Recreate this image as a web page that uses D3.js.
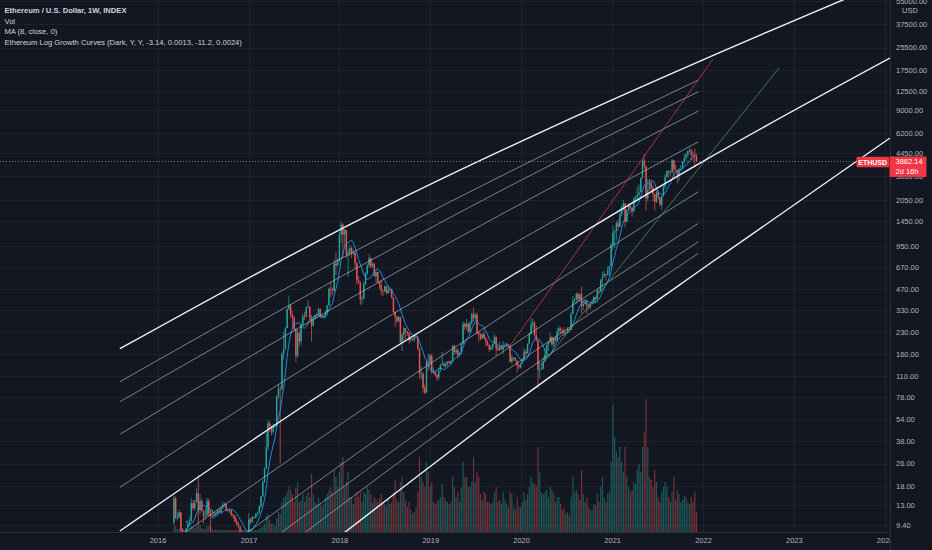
<!DOCTYPE html>
<html>
<head>
<meta charset="utf-8">
<script src="https://cdn.jsdelivr.net/npm/d3@7"></script>
<style>
    body { margin: 0; background: #131722; }
    svg { display: block; font-family: "Liberation Sans", Arial, sans-serif; }
</style>
</head>
<body>
<svg id="eth-chart"></svg>
<script>
// 周K线：首周日期与开盘价
var firstWeek = '2016-03-07';
var firstOpen = 9.8;
// 每周 [收盘, 最高, 最低, 成交量]
var weeks2016 = [
    [14.6, 15.3, 9.3, 5], [10.5, 15.1, 10.4, 6], [10.6, 11.6, 10.1, 3], [11.6, 12.1, 10.6, 3],
    [8.7, 11.6, 8.2, 3], [8.1, 8.9, 7.3, 3], [7.6, 8.2, 7.3, 2], [8.9, 9.0, 7.0, 2],
    [9.5, 10.2, 8.8, 3], [10.0, 10.8, 9.2, 3], [13.5, 14.6, 10.2, 6], [12.4, 14.2, 12.0, 5],
    [13.8, 14.3, 11.9, 4], [15.9, 17.2, 13.7, 6], [12.0, 21.5, 10.0, 12], [14.0, 15.6, 11.3, 7],
    [11.9, 14.5, 11.8, 4], [10.9, 12.0, 9.6, 3], [11.0, 12.4, 10.3, 3], [14.0, 14.7, 11.0, 6],
    [11.4, 14.5, 10.8, 6], [10.9, 12.0, 8.2, 5], [10.9, 12.3, 10.5, 3], [11.2, 11.5, 10.4, 2],
    [11.1, 11.5, 10.7, 2], [11.9, 12.2, 10.9, 2], [11.6, 12.4, 11.3, 2], [12.4, 12.8, 11.6, 2],
    [13.0, 13.8, 12.3, 2], [13.3, 13.7, 12.7, 2], [12.0, 13.3, 11.8, 2], [11.9, 12.2, 11.6, 2],
    [12.0, 12.3, 11.4, 2], [11.2, 12.0, 10.8, 2], [10.9, 11.3, 10.4, 2], [10.0, 11.1, 9.8, 2],
    [9.6, 10.4, 9.3, 2], [9.2, 9.9, 8.9, 2], [7.5, 9.0, 7.4, 3], [8.2, 8.6, 6.9, 3],
    [7.8, 8.5, 7.6, 2], [7.2, 7.9, 7.0, 2], [8.1, 8.4, 7.1, 2]
];
var weeks2017 = [
    [10.3, 11.5, 8.0, 4], [9.9, 10.6, 9.5, 3], [10.7, 10.9, 9.7, 2], [10.6, 10.8, 10.4, 2],
    [11.3, 11.5, 10.5, 2], [11.4, 11.7, 10.9, 2], [12.8, 13.0, 11.9, 3], [15.1, 15.3, 12.4, 4],
    [19.2, 19.6, 15.0, 6], [23.9, 24.3, 18.9, 8], [34.0, 44.5, 23.6, 16], [50.5, 53.5, 32.0, 18],
    [48.6, 52.5, 44.0, 12], [44.0, 48.5, 41.5, 8], [48.4, 50.5, 42.5, 8], [48.5, 50.0, 47.0, 6],
    [79.6, 80.5, 48.0, 14], [90.0, 97.0, 76.0, 20], [89.0, 93.5, 26.0, 18], [160, 165, 88, 30],
    [172, 232, 145, 34], [245, 250, 172, 36], [335, 340, 245, 40], [355, 420, 330, 45],
    [305, 365, 290, 42], [292, 325, 250, 38], [240, 300, 235, 30], [155, 245, 140, 44],
    [225, 240, 150, 50], [197, 238, 180, 30], [260, 268, 185, 32], [297, 310, 255, 38],
    [295, 320, 280, 30], [345, 350, 298, 36], [350, 390, 340, 40], [290, 345, 280, 35],
    [255, 305, 195, 58], [285, 295, 252, 38], [302, 305, 282, 30], [310, 315, 290, 28],
    [335, 345, 295, 34], [295, 340, 290, 28], [295, 308, 288, 26], [295, 305, 287, 28],
    [315, 330, 290, 35], [355, 360, 300, 38], [470, 480, 355, 42], [465, 520, 410, 45],
    [455, 480, 420, 40], [715, 760, 450, 62], [690, 870, 590, 55], [750, 780, 690, 45]
];
var weeks2018 = [
    [1150, 1200, 730, 60], [1360, 1430, 1000, 70], [1150, 1390, 780, 75], [1245, 1265, 950, 45],
    [830, 1250, 780, 50], [860, 910, 570, 60], [920, 975, 810, 35], [840, 950, 780, 35],
    [855, 890, 820, 28], [720, 870, 660, 35], [540, 730, 500, 40], [525, 580, 510, 35],
    [395, 530, 360, 40], [400, 420, 365, 30], [510, 530, 395, 40], [605, 620, 500, 38],
    [690, 710, 590, 45], [780, 830, 660, 42], [680, 790, 660, 38], [710, 730, 670, 30],
    [580, 720, 570, 35], [620, 630, 520, 33], [525, 620, 520, 30], [500, 530, 470, 34],
    [455, 545, 420, 38], [450, 460, 415, 30], [490, 495, 445, 28], [435, 490, 430, 26],
    [460, 500, 435, 32], [465, 480, 440, 28], [405, 470, 400, 30], [320, 410, 315, 40],
    [295, 325, 250, 52], [275, 300, 265, 32], [295, 300, 270, 30], [195, 295, 190, 50],
    [220, 225, 168, 55], [245, 250, 195, 40], [232, 240, 205, 32], [225, 233, 215, 25],
    [200, 230, 190, 30], [205, 215, 195, 22], [202, 208, 197, 18], [215, 218, 195, 20],
    [212, 225, 205, 24], [175, 212, 170, 40], [115, 175, 105, 75], [115, 130, 105, 55],
    [91, 118, 84, 50], [84, 96, 82, 45], [140, 145, 84, 70], [138, 160, 120, 60]
];
var weeks2019 = [
    [155, 160, 130, 45], [118, 160, 115, 50], [118, 128, 115, 30], [113, 121, 110, 28],
    [108, 115, 102, 30], [122, 125, 104, 32], [133, 135, 119, 35], [136, 165, 133, 48],
    [131, 141, 128, 35], [136, 139, 126, 32], [141, 142, 129, 30], [137, 143, 134, 28],
    [141, 144, 133, 30], [183, 186, 140, 55], [164, 186, 157, 45], [170, 177, 160, 35],
    [157, 176, 147, 40], [162, 164, 152, 30], [188, 190, 158, 45], [262, 275, 185, 70],
    [250, 270, 235, 55], [265, 285, 240, 55], [230, 265, 225, 45], [268, 275, 230, 45],
    [310, 315, 260, 50], [290, 345, 275, 75], [305, 315, 275, 50], [228, 318, 220, 60],
    [220, 230, 195, 55], [205, 225, 200, 38], [222, 224, 205, 32], [207, 235, 203, 40],
    [195, 212, 180, 38], [185, 200, 182, 30], [172, 190, 165, 30], [178, 185, 170, 28],
    [188, 190, 170, 30], [212, 222, 186, 40], [175, 212, 155, 45], [170, 183, 168, 30],
    [181, 196, 169, 32], [172, 186, 171, 28], [182, 197, 160, 40], [182, 191, 176, 32],
    [188, 193, 182, 28], [183, 189, 178, 25], [140, 184, 139, 40], [150, 157, 135, 38],
    [150, 152, 143, 25], [142, 152, 141, 22], [132, 145, 117, 35], [128, 136, 124, 25]
];
var weeks2020 = [
    [136, 138, 126, 25], [146, 147, 135, 30], [166, 176, 143, 40], [161, 172, 155, 32],
    [189, 190, 160, 38], [223, 227, 186, 45], [259, 287, 220, 55], [267, 287, 240, 50],
    [218, 275, 210, 48], [200, 254, 195, 45], [123, 200, 90, 85], [123, 140, 106, 60],
    [125, 140, 122, 40], [142, 152, 124, 38], [158, 175, 140, 40], [185, 190, 148, 42],
    [195, 196, 168, 35], [211, 227, 190, 45], [187, 215, 180, 42], [207, 210, 178, 38],
    [199, 215, 195, 30], [231, 245, 196, 35], [244, 253, 222, 35], [238, 250, 222, 28],
    [230, 240, 222, 22], [226, 248, 215, 24], [227, 233, 223, 18], [242, 250, 225, 20],
    [237, 242, 230, 16], [310, 320, 235, 35], [386, 417, 310, 55], [392, 405, 370, 40],
    [432, 440, 370, 42], [393, 445, 380, 38], [428, 435, 380, 32], [353, 488, 310, 62],
    [365, 390, 330, 38], [383, 395, 360, 30], [355, 384, 310, 34], [346, 365, 335, 25],
    [370, 372, 335, 22], [377, 395, 360, 22], [410, 420, 370, 28], [396, 410, 370, 26],
    [454, 470, 375, 38], [447, 480, 440, 30], [548, 550, 445, 45], [575, 620, 485, 55],
    [600, 635, 570, 35], [590, 600, 540, 30], [640, 680, 585, 38], [685, 690, 570, 40]
];
var weeks2021 = [
    [975, 1010, 685, 70], [1190, 1340, 890, 127], [1230, 1255, 920, 95], [1390, 1445, 1040, 80],
    [1315, 1475, 1220, 75], [1610, 1770, 1300, 85], [1810, 1875, 1560, 70], [1935, 2040, 1700, 60],
    [1420, 1950, 1300, 85], [1720, 1750, 1420, 55], [1855, 1945, 1700, 45], [1790, 1900, 1720, 40],
    [1690, 1820, 1550, 42], [2085, 2150, 1680, 50], [2150, 2190, 1960, 48], [2240, 2550, 2000, 62],
    [2320, 2650, 2100, 68], [2950, 2950, 2320, 60], [3925, 4000, 2900, 85], [3580, 4380, 3400, 100],
    [2100, 3600, 1730, 133], [2400, 2900, 2000, 85], [2720, 2900, 2400, 55], [2510, 2800, 2300, 52],
    [2250, 2600, 2000, 45], [1980, 2250, 1700, 62], [2320, 2400, 1950, 50], [2140, 2400, 2050, 35],
    [1890, 2140, 1840, 30], [2190, 2200, 1720, 40], [2550, 2600, 2150, 45], [3010, 3150, 2450, 50],
    [3310, 3330, 2950, 45], [3230, 3330, 2950, 35], [3230, 3370, 3050, 30], [3940, 4020, 3200, 40],
    [3410, 3970, 3000, 55], [3330, 3680, 3300, 32], [3060, 3350, 2700, 42], [3390, 3470, 2800, 38],
    [3420, 3650, 3280, 30], [3850, 3900, 3400, 32], [4080, 4370, 3700, 36], [4290, 4460, 3900, 34],
    [4610, 4650, 4150, 30], [4650, 4870, 4500, 28], [4320, 4770, 3950, 35], [4290, 4550, 3910, 30],
    [4200, 4780, 3500, 40], [3882.14, 4380, 3860, 20]
];
var maPeriod = 8;
var lastPrice = 3882.14;
var lastCountdown = '2d 16h';
var symbolName = 'ETHUSD';

// 对数增长曲线 [日期, 价格]
var curveTop = [['2015-08-03', 174], ['2018-08-25', 2042], ['2020-06-06', 7272], ['2021-12-20', 20370], ['2024-01-22', 77900]];
var curveMid = [['2015-08-03', 8.51], ['2018-01-16', 103.7], ['2020-01-01', 641], ['2021-12-20', 3766], ['2024-01-22', 21410]];
var curveLow = [['2017-12-14', 7.33], ['2019-10-28', 63.1], ['2022-02-18', 756], ['2024-01-22', 5697]];
var bandA = [['2015-08-03', 100.8], ['2018-01-04', 769], ['2020-06-06', 4938], ['2021-12-13', 14880]];
var bandB = [['2015-08-03', 72.4], ['2018-01-04', 570.6], ['2020-06-06', 3958], ['2021-12-13', 12265]];
var bandC = [['2015-08-03', 42.2], ['2018-01-04', 364.7], ['2020-06-06', 2719], ['2021-12-13', 8909]];
var bandD = [['2015-08-03', 17.55], ['2018-01-04', 182.1], ['2020-06-06', 1536], ['2021-12-13', 5352]];
var bandE = [['2016-03-08', 7.33], ['2019-03-20', 168.5], ['2021-12-13', 2343]];
var bandF = [['2016-11-15', 7.33], ['2019-03-20', 90.8], ['2021-12-13', 1388]];
var bandG = [['2017-04-02', 7.33], ['2019-03-20', 63.1], ['2021-12-13', 1023]];
var bandH = [['2017-07-07', 7.33], ['2019-03-20', 49.2], ['2021-12-13', 844.6]];
// 趋势线
var redTrend = [['2019-11-17', 182.1], ['2022-02-10', 21070]];
var greenTrend = [['2020-03-24', 132.9], ['2022-11-03', 18251]];

// 坐标轴刻度
var priceTicks = [55000, 37500, 25500, 17500, 12500, 9000, 6200, 4450, 3050, 2050, 1450, 950, 670,
    470, 330, 230, 160, 110, 78, 54, 38, 26, 18, 13, 9.4];
var yearTicks = ['2016', '2017', '2018', '2019', '2020', '2021', '2022', '2023', '2024'];
var legendLines = ['Ethereum / U.S. Dollar, 1W, INDEX', 'Vol', 'MA (8, close, 0)',
    'Ethereum Log Growth Curves (Dark, Y, Y, -3.14, 0.0013, -11.2, 0.0024)'];
var priceMin = 8.37, priceMax = 56050;

function drawChart(selector) {
    // svg宽高
    var svgWidth = 932,
        svgHeight = 550;
    // 绘图区
    var plotWidth = 890,
        plotHeight = 532;
    var upColor = '#26a69a',
        downColor = '#ef5350',
        gridColor = '#1e222d',
        textColor = '#b2b5be';
    var parseDate = d3.utcParse('%Y-%m-%d');

    var svg = d3.select(selector)
        .attr('width', svgWidth)
        .attr('height', svgHeight);
    svg.append('rect')
        .attr('width', svgWidth)
        .attr('height', svgHeight)
        .attr('fill', '#131722');

    // 整理周数据
    var allWeeks = weeks2016.concat(weeks2017, weeks2018, weeks2019, weeks2020, weeks2021);
    var startDate = parseDate(firstWeek);
    var candles = allWeeks.map(function(d, i) {
        return {
            date: d3.utcDay.offset(startDate, i * 7),
            open: i === 0 ? firstOpen : allWeeks[i - 1][0],
            close: d[0],
            high: d[1],
            low: d[2],
            volume: d[3]
        };
    });

    // 比例尺
    var x = d3.scaleUtc()
        .domain([parseDate('2016-01-01'), parseDate('2022-01-01')])
        .range([157.5, 703]);
    var y = d3.scaleLog()
        .domain([priceMin, priceMax])
        .range([plotHeight, 0]);
    var vy = d3.scaleLinear()
        .domain([0, d3.max(candles, function(d) {return d.volume;})])
        .range([plotHeight, plotHeight - 133]);

    svg.append('clipPath')
        .attr('id', 'plot-clip')
        .append('rect')
        .attr('width', plotWidth)
        .attr('height', plotHeight);
    svg.append('clipPath')
        .attr('id', 'xaxis-clip')
        .append('rect')
        .attr('width', plotWidth)
        .attr('height', svgHeight);

    // 网格
    var grid = svg.append('g');
    grid.selectAll('.hgrid')
        .data(priceTicks)
        .enter()
        .append('line')
        .attr('x1', 0)
        .attr('x2', plotWidth)
        .attr('y1', function(d) {return Math.round(y(d)) + 0.5;})
        .attr('y2', function(d) {return Math.round(y(d)) + 0.5;})
        .attr('stroke', gridColor);
    grid.selectAll('.vgrid')
        .data(yearTicks)
        .enter()
        .append('line')
        .attr('x1', function(d) {return Math.round(x(parseDate(d + '-01-01'))) + 0.5;})
        .attr('x2', function(d) {return Math.round(x(parseDate(d + '-01-01'))) + 0.5;})
        .attr('y1', 0)
        .attr('y2', plotHeight)
        .attr('stroke', gridColor);

    var plot = svg.append('g').attr('clip-path', 'url(#plot-clip)');

    // 成交量
    plot.selectAll('.vol')
        .data(candles)
        .enter()
        .append('rect')
        .attr('x', function(d) {return x(d.date) - 0.6;})
        .attr('y', function(d) {return vy(d.volume);})
        .attr('width', 1.2)
        .attr('height', function(d) {return plotHeight - vy(d.volume);})
        .attr('fill', function(d) {return d.close >= d.open ? upColor : downColor;})
        .attr('fill-opacity', 0.45);

    // K线
    var candle = plot.selectAll('.candle')
        .data(candles)
        .enter()
        .append('g');
    candle.append('line')
        .attr('x1', function(d) {return x(d.date);})
        .attr('x2', function(d) {return x(d.date);})
        .attr('y1', function(d) {return y(d.high);})
        .attr('y2', function(d) {return y(d.low);})
        .attr('stroke', function(d) {return d.close >= d.open ? upColor : downColor;})
        .attr('stroke-width', 0.7);
    candle.append('rect')
        .attr('x', function(d) {return x(d.date) - 0.7;})
        .attr('y', function(d) {return y(Math.max(d.open, d.close));})
        .attr('width', 1.4)
        .attr('height', function(d) {return Math.max(0.7, Math.abs(y(d.open) - y(d.close)));})
        .attr('fill', function(d) {return d.close >= d.open ? upColor : downColor;});

    // 均线 MA(8)
    var maData = [];
    candles.forEach(function(d, i) {
        if (i >= maPeriod - 1) {
            maData.push({
                date: d.date,
                value: d3.mean(candles.slice(i - maPeriod + 1, i + 1), function(c) {return c.close;})
            });
        }
    });
    var maLine = d3.line()
        .x(function(d) {return x(d.date);})
        .y(function(d) {return y(d.value);});
    plot.append('path')
        .attr('d', maLine(maData))
        .attr('fill', 'none')
        .attr('stroke', '#2196f3')
        .attr('stroke-width', 0.9);

    // 增长曲线
    var curveLine = d3.line()
        .x(function(d) {return x(parseDate(d[0]));})
        .y(function(d) {return y(d[1]);})
        .curve(d3.curveMonotoneX);
    plot.selectAll('.band')
        .data([bandA, bandB, bandC, bandD, bandE, bandF, bandG, bandH])
        .enter()
        .append('path')
        .attr('d', curveLine)
        .attr('fill', 'none')
        .attr('stroke', '#c3c6ce')
        .attr('stroke-opacity', 0.75)
        .attr('stroke-width', 0.8);
    plot.selectAll('.trend')
        .data([redTrend, greenTrend])
        .enter()
        .append('path')
        .attr('d', curveLine)
        .attr('fill', 'none')
        .attr('stroke', function(d, i) {return ['#e5434f', '#4caf50'][i];})
        .attr('stroke-opacity', 0.85)
        .attr('stroke-width', 0.8);
    plot.selectAll('.main-curve')
        .data([curveTop, curveMid, curveLow])
        .enter()
        .append('path')
        .attr('d', curveLine)
        .attr('fill', 'none')
        .attr('stroke', '#f0f3fa')
        .attr('stroke-width', 1.4);

    // 最新价虚线
    plot.append('line')
        .attr('x1', 0)
        .attr('x2', 856)
        .attr('y1', Math.round(y(lastPrice)) + 0.5)
        .attr('y2', Math.round(y(lastPrice)) + 0.5)
        .attr('stroke', '#9598a1')
        .attr('stroke-opacity', 0.7)
        .attr('stroke-dasharray', '1,2');

    // 分隔线
    svg.append('line')
        .attr('x1', plotWidth + 0.5)
        .attr('x2', plotWidth + 0.5)
        .attr('y1', 0)
        .attr('y2', svgHeight)
        .attr('stroke', '#2a2e39');
    svg.append('line')
        .attr('x1', 0)
        .attr('x2', plotWidth)
        .attr('y1', plotHeight + 0.5)
        .attr('y2', plotHeight + 0.5)
        .attr('stroke', '#2a2e39');

    // y轴
    var yAxis = d3.axisRight(y)
        .tickValues(priceTicks)
        .tickFormat(d3.format('.2f'))
        .tickSize(0)
        .tickPadding(6);
    var yAxisG = svg.append('g')
        .attr('transform', 'translate(' + plotWidth + ', 0)')
        .call(yAxis);
    yAxisG.select('.domain').remove();
    yAxisG.selectAll('text')
        .attr('fill', textColor)
        .style('font-size', '7.5px')
        .style('font-family', '"Liberation Sans", Arial, sans-serif');
    svg.append('text')
        .attr('x', 910)
        .attr('y', 12.5)
        .attr('text-anchor', 'middle')
        .attr('fill', textColor)
        .style('font-size', '7.5px')
        .text('USD');

    // x轴
    var xAxis = d3.axisBottom(x)
        .tickValues(yearTicks.map(function(d) {return parseDate(d + '-01-01');}))
        .tickFormat(d3.utcFormat('%Y'))
        .tickSize(0)
        .tickPadding(6);
    var xAxisG = svg.append('g')
        .attr('clip-path', 'url(#xaxis-clip)')
        .append('g')
        .attr('transform', 'translate(0, ' + plotHeight + ')')
        .call(xAxis);
    xAxisG.select('.domain').remove();
    xAxisG.selectAll('text')
        .attr('fill', textColor)
        .style('font-size', '7.5px')
        .style('font-family', '"Liberation Sans", Arial, sans-serif');

    // 最新价标签
    var lastY = y(lastPrice);
    svg.append('rect')
        .attr('x', 856.5)
        .attr('y', lastY - 4.5)
        .attr('width', 32.5)
        .attr('height', 10.5)
        .attr('rx', 1)
        .attr('fill', '#f23645');
    svg.append('text')
        .attr('x', 872.7)
        .attr('y', lastY + 3.3)
        .attr('text-anchor', 'middle')
        .attr('fill', '#ffffff')
        .style('font-size', '7px')
        .style('font-weight', 'bold')
        .text(symbolName);
    svg.append('rect')
        .attr('x', 889.5)
        .attr('y', lastY - 4.8)
        .attr('width', 37)
        .attr('height', 20.5)
        .attr('fill', '#f23645');
    svg.append('text')
        .attr('x', 895.5)
        .attr('y', lastY + 3.2)
        .attr('fill', '#ffffff')
        .style('font-size', '7.5px')
        .text(d3.format('.2f')(lastPrice));
    svg.append('text')
        .attr('x', 895.5)
        .attr('y', lastY + 12.6)
        .attr('fill', '#ffffff')
        .style('font-size', '7.5px')
        .text(lastCountdown);

    // 图例
    svg.selectAll('.legend')
        .data(legendLines)
        .enter()
        .append('text')
        .attr('x', 4.5)
        .attr('y', function(d, i) {return 13 + i * 10.5;})
        .attr('fill', '#d1d4dc')
        .style('font-size', '7.6px')
        .style('font-weight', function(d, i) {return i === 0 ? 'bold' : 'normal';})
        .text(function(d) {return d;});
}
drawChart('#eth-chart');
</script>
</body>
</html>
